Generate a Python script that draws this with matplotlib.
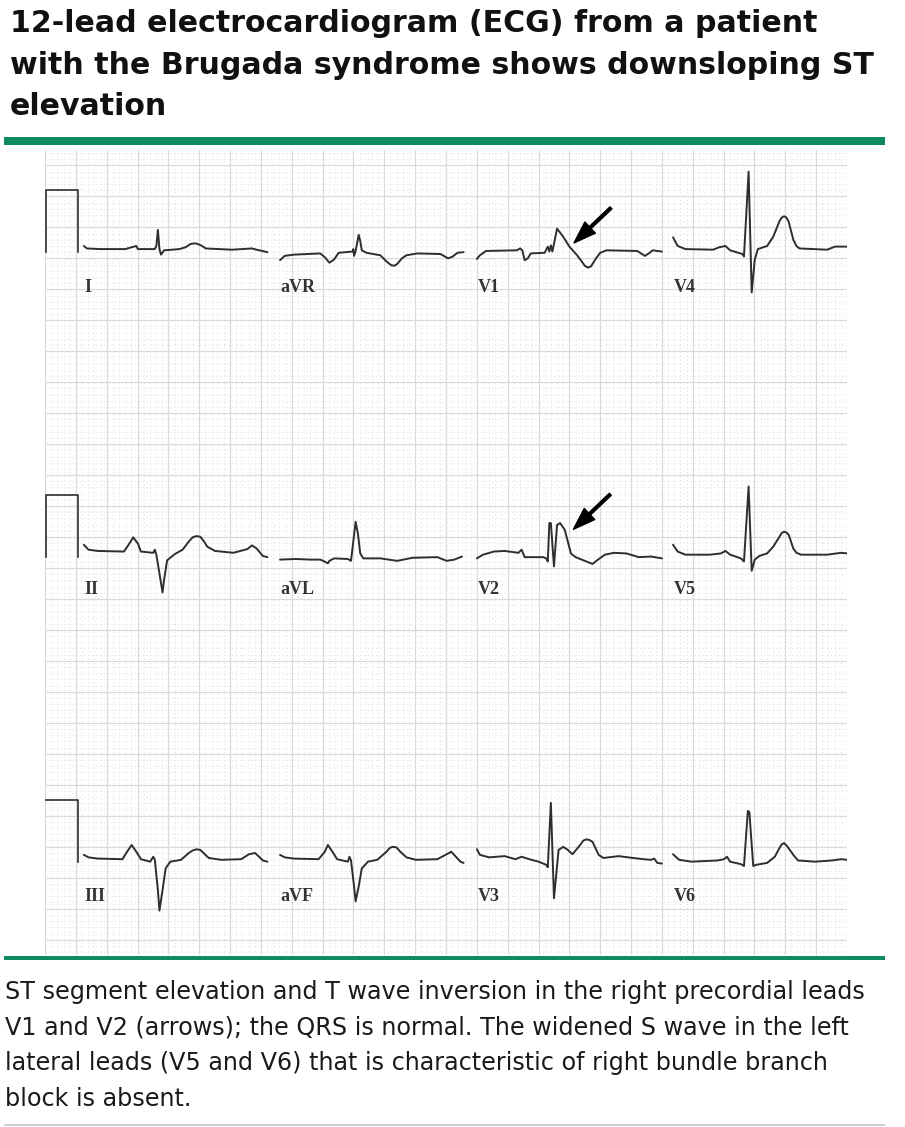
import numpy as np
import matplotlib.pyplot as plt
from matplotlib.patches import Rectangle

W, H = 905, 1127

# ECG traces: time (s) from strip start, amplitude (mV)
I_t = [0, .02, .10, .27, .31, .34, .35, .46, .47, .48, .49, .50, .52, .62, .66, .69, .71, .73, .76, .79, .96, 1.09, 1.12, 1.19]
I_mv = [.05, .01, 0, 0, .03, .05, 0, 0, .05, .31, 0, -.09, -.02, 0, .03, .08, .09, .09, .06, .01, -.01, .01, -.01, -.05]

aVR_t = [0, .03, .09, .26, .29, .32, .35, .38, .47, .475, .48, .49, .51, .52, .53, .56, .65, .69, .72, .74, .76, .79, .82, .89, 1.04, 1.09, 1.12, 1.15, 1.19]
aVR_mv = [-.18, -.11, -.09, -.07, -.13, -.22, -.17, -.06, -.04, 0, -.11, -.03, .23, .13, -.02, -.06, -.10, -.20, -.26, -.27, -.24, -.15, -.10, -.07, -.08, -.15, -.12, -.06, -.05]

V1_t = [0, .02, .06, .26, .28, .295, .31, .33, .35, .44, .46, .47, .48, .49, .52, .56, .60, .65, .68, .70, .72, .74, .77, .80, .84, 1.04, 1.09, 1.12, 1.14, 1.20]
V1_mv = [-.16, -.10, -.03, -.02, .01, -.02, -.18, -.15, -.07, -.06, .04, -.04, .06, -.04, .33, .20, .04, -.10, -.20, -.27, -.30, -.28, -.16, -.06, -.02, -.03, -.11, -.06, -.02, -.04]

V4_t = [0, .03, .08, .26, .30, .34, .37, .45, .46, .49, .51, .53, .55, .61, .65, .69, .705, .72, .735, .75, .78, .80, .82, 1.0, 1.05, 1.13]
V4_mv = [.19, .05, 0, -.01, .03, .05, -.02, -.08, -.12, 1.25, -.70, -.17, 0, .05, .20, .45, .51, .53, .51, .44, .15, .05, .01, -.01, .04, .04]

II_t = [0, .03, .09, .26, .29, .32, .35, .37, .45, .46, .47, .49, .51, .52, .54, .59, .64, .68, .705, .73, .755, .78, .80, .85, .97, 1.06, 1.09, 1.12, 1.16, 1.19]
II_mv = [.10, .02, 0, -.01, .10, .22, .12, -.01, -.03, .02, -.06, -.36, -.67, -.47, -.15, -.05, .02, .15, .22, .24, .23, .15, .07, 0, -.03, .03, .09, .04, -.08, -.10]

aVL_t = [0, .10, .20, .26, .28, .31, .32, .35, .44, .46, .49, .505, .52, .54, .65, .76, .86, 1.02, 1.08, 1.13, 1.18]
aVL_mv = [-.14, -.13, -.14, -.14, -.16, -.20, -.16, -.12, -.13, -.16, .47, .28, -.04, -.12, -.12, -.16, -.11, -.10, -.16, -.14, -.09]

V2_t = [0, .04, .11, .18, .27, .29, .31, .43, .45, .46, .47, .48, .50, .52, .54, .57, .59, .61, .64, .70, .75, .78, .83, .89, .97, 1.05, 1.13, 1.20]
V2_mv = [-.12, -.06, -.01, 0, -.03, .02, -.10, -.10, -.12, -.17, .45, .45, -.25, .42, .45, .34, .15, -.04, -.10, -.16, -.21, -.15, -.06, -.03, -.04, -.10, -.09, -.12]

V5_t = [0, .03, .08, .24, .31, .34, .37, .44, .46, .49, .51, .53, .56, .61, .65, .69, .705, .72, .735, .75, .78, .80, .83, 1.0, 1.09, 1.13]
V5_mv = [.10, -.01, -.06, -.06, -.04, 0, -.06, -.12, -.17, 1.04, -.32, -.14, -.08, -.04, .07, .23, .29, .31, .30, .26, .04, -.03, -.06, -.06, -.03, -.04]

III_t = [0, .03, .09, .25, .28, .31, .34, .37, .43, .45, .46, .48, .49, .51, .53, .56, .63, .68, .705, .73, .755, .78, .81, .89, 1.02, 1.07, 1.11, 1.14, 1.16, 1.19]
III_mv = [.05, .01, -.01, -.02, .10, .21, .10, -.02, -.06, .02, -.03, -.52, -.85, -.52, -.17, -.06, -.03, .08, .12, .14, .13, .07, 0, -.03, -.02, .06, .08, .01, -.04, -.06]

aVF_t = [0, .03, .09, .25, .29, .31, .34, .37, .44, .45, .46, .48, .49, .51, .53, .57, .63, .69, .71, .73, .755, .78, .82, .88, 1.02, 1.08, 1.11, 1.14, 1.17, 1.19]
aVF_mv = [.05, .01, -.01, -.02, .10, .21, .10, -.02, -.06, .02, -.04, -.46, -.70, -.46, -.17, -.06, -.03, .10, .16, .18, .17, .10, .01, -.03, -.02, .06, .10, .02, -.06, -.08]

V3_t = [0, .02, .08, .18, .25, .29, .34, .40, .45, .46, .48, .50, .53, .56, .59, .62, .67, .69, .71, .73, .75, .79, .82, .92, .98, 1.08, 1.13, 1.15, 1.17, 1.20]
V3_mv = [.14, .05, .01, .03, -.02, .02, -.02, -.06, -.11, -.15, .89, -.65, .13, .18, .13, .06, .21, .28, .30, .29, .26, .05, 0, .03, .01, -.02, -.03, -.01, -.08, -.09]

V6_t = [0, .04, .12, .29, .33, .35, .37, .44, .46, .485, .495, .52, .54, .61, .66, .69, .705, .72, .74, .78, .81, .92, 1.03, 1.09, 1.13]
V6_mv = [.06, -.03, -.06, -.04, -.02, .02, -.06, -.10, -.13, .76, .74, -.13, -.11, -.08, .02, .16, .22, .24, .19, .05, -.04, -.06, -.04, -.02, -.03]

rows = [["I", "aVR", "V1", "V4"],
        ["II", "aVL", "V2", "V5"],
        ["III", "aVF", "V3", "V6"]]
traces = {"I": (I_t, I_mv), "aVR": (aVR_t, aVR_mv), "V1": (V1_t, V1_mv), "V4": (V4_t, V4_mv),
          "II": (II_t, II_mv), "aVL": (aVL_t, aVL_mv), "V2": (V2_t, V2_mv), "V5": (V5_t, V5_mv),
          "III": (III_t, III_mv), "aVF": (aVF_t, aVF_mv), "V3": (V3_t, V3_mv), "V6": (V6_t, V6_mv)}

# calibration pulse: 1 mV, ~0.21 s, base offset per row (mV)
cal_height = 1.0
cal_width = 0.21
cal_offset = [-0.04, -0.10, -0.06]

# arrows (ST elevation) in lead coords: time s, mV
arrows = {"V1": (0.63, 0.10), "V2": (0.626, 0.35)}

title_lines = ["12-lead electrocardiogram (ECG) from a patient",
               "with the Brugada syndrome shows downsloping ST",
               "elevation"]
caption_lines = ["ST segment elevation and T wave inversion in the right precordial leads",
                 "V1 and V2 (arrows); the QRS is normal. The widened S wave in the left",
                 "lateral leads (V5 and V6) that is characteristic of right bundle branch",
                 "block is absent."]

MM_PER_S = 25
MM_PER_MV = 10
row_base = [114.0, 65.25, 15.67]   # mm on the paper grid
col_x = [6.3, 38.1, 70.0, 101.8]   # mm
green = "#0f8c5f"
ink = "#2e2e2e"


def fx(px):
    return px / W


def fy(py):
    return 1 - py / H


fig = plt.figure(figsize=(W / 100, H / 100), dpi=100)

# paper grid
ax = fig.add_axes([fx(45), fy(955), (847 - 45) / W, (955 - 150) / H])
ax.set_xlim(0, 130)
ax.set_ylim(0, 130)
ax.set_xticks(np.arange(0, 131, 5))
ax.set_xticks(np.arange(0, 131, 1), minor=True)
ax.set_yticks(np.arange(2.5, 130, 5))
ax.set_yticks(np.arange(0.5, 130, 1), minor=True)
ax.grid(which="minor", color="#dcdcdc", lw=0.7, ls=(0, (1, 3)))
ax.grid(which="major", color="#dadada", lw=0.9)
ax.tick_params(which="both", length=0, labelbottom=False, labelleft=False)
for s in ax.spines.values():
    s.set_visible(False)

# calibration pulses
for r, base in enumerate(row_base):
    y0 = base + cal_offset[r] * MM_PER_MV
    y1 = y0 + cal_height * MM_PER_MV
    x0 = 0.15
    x1 = x0 + cal_width * MM_PER_S
    if r < 2:
        ax.plot([x0, x0, x1, x1], [y0, y1, y1, y0], color=ink, lw=1.2)
    else:
        ax.plot([x0, x1, x1], [y1, y1, y0], color=ink, lw=1.2)

# leads
for r, names in enumerate(rows):
    base = row_base[r]
    for c, name in enumerate(names):
        t, mv = traces[name]
        ax.plot(col_x[c] + np.array(t) * MM_PER_S, base + np.array(mv) * MM_PER_MV,
                color=ink, lw=1.4, solid_joinstyle="round", solid_capstyle="round")
        ax.text(col_x[c] + 0.1, base - 6.9, name, family="Liberation Serif",
                fontsize=13, fontweight="bold", color="#333333", va="baseline", ha="left")
        if name in arrows:
            at, av = arrows[name]
            ax.annotate("", xy=(col_x[c] + at * MM_PER_S, base + av * MM_PER_MV),
                        xytext=(26.6, 25.2), textcoords="offset points",
                        arrowprops=dict(facecolor="black", edgecolor="black",
                                        width=2.0, headwidth=11, headlength=16, shrink=0))

# rules
fig.add_artist(Rectangle((fx(4), fy(145)), 881 / W, 8 / H, transform=fig.transFigure,
                         color=green, lw=0))
fig.add_artist(Rectangle((fx(4), fy(960)), 881 / W, 4 / H, transform=fig.transFigure,
                         color=green, lw=0))
fig.add_artist(Rectangle((fx(4), fy(1126)), 881 / W, 2 / H, transform=fig.transFigure,
                         color="#d0d0d0", lw=0))

# text
for i, line in enumerate(title_lines):
    fig.text(fx(10), fy(32 + 41.5 * i), line, fontsize=21.6, fontweight="bold",
             color="#111111", va="baseline", ha="left")
for i, line in enumerate(caption_lines):
    fig.text(fx(5), fy(999 + 35.7 * i), line, fontsize=17.2,
             color="#1a1a1a", va="baseline", ha="left")

fig.savefig("out.png", dpi=100)
